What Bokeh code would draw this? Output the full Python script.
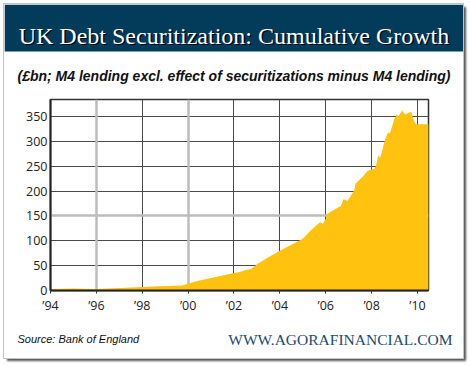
from bokeh.plotting import figure
from bokeh.layouts import column
from bokeh.models import Label, BoxAnnotation, FixedTicker, Grid, Range1d
from bokeh.embed import file_html
from bokeh.resources import INLINE

# ---- data ----
years = [1994.0, 1995.0, 1996.0, 1997.0, 1998.0, 1999.0, 1999.75, 2000.0, 2000.5,
         2001.0, 2001.5, 2002.0, 2002.25, 2002.5, 2002.75, 2003.0, 2003.5, 2004.0,
         2004.5, 2005.0, 2005.35, 2005.75, 2005.87, 2006.0, 2006.05, 2006.5, 2006.66,
         2006.78, 2006.95, 2007.1, 2007.24, 2007.3, 2007.6, 2007.83, 2008.12, 2008.19,
         2008.29, 2008.38, 2008.55, 2008.67, 2008.76, 2008.79, 2008.85, 2008.99,
         2009.1, 2009.17, 2009.33, 2009.46, 2009.72, 2009.84, 2009.94, 2010.49]
values = [3, 4, 3, 5, 7, 9, 10, 14, 20,
          25, 30, 35, 37, 41, 43, 53, 67, 80,
          92, 104, 121, 137, 134, 144, 154, 166, 170,
          184, 180, 191, 201, 215, 228, 241, 245, 251,
          272, 267, 298, 314, 318, 315, 323, 345,
          354, 350, 362, 354, 360, 342, 334, 334]

x_ticks = [1994, 1996, 1998, 2000, 2002, 2004, 2006, 2008, 2010]
x_labels = ["\u201994", "\u201996", "\u201998", "\u201900", "\u201902",
            "\u201904", "\u201906", "\u201908", "\u201910"]
y_ticks = [0, 50, 100, 150, 200, 250, 300, 350]

title_text = "UK Debt Securitization: Cumulative Growth"
subtitle_text = "(\u00a3bn; M4 lending excl. effect of securitizations minus M4 lending)"
source_text = "Source: Bank of England"
site_text = "WWW.AGORAFINANCIAL.COM"

W = 459


def panel(height):
    f = figure(width=W, height=height, output_backend="svg", toolbar_location=None,
               x_range=Range1d(0, W), y_range=Range1d(height, 0),
               x_axis_type=None, y_axis_type=None, frame_align=False,
               min_border=0, min_border_left=0, min_border_right=0,
               min_border_top=0, min_border_bottom=0)
    f.xgrid.visible = False
    f.ygrid.visible = False
    f.outline_line_color = None
    f.background_fill_color = "white"
    f.border_fill_color = "white"
    return f


# ---- header: title bar + subtitle ----
head = panel(91)
head.add_layout(BoxAnnotation(left=0, right=W, top=0, bottom=47,
                              fill_color="#033b5b", fill_alpha=1, line_color=None,
                              level="underlay"))
head.add_layout(Label(x=W / 2 + 1.5, y=32.5, text=title_text,
                      text_font="Liberation Serif", text_font_size="24px",
                      text_color="black", text_alpha=0.85,
                      text_align="center", text_baseline="alphabetic"))
head.add_layout(Label(x=W / 2, y=31, text=title_text,
                      text_font="Liberation Serif", text_font_size="24px",
                      text_color="white",
                      text_align="center", text_baseline="alphabetic"))
head.add_layout(Label(x=229.5, y=71, text=subtitle_text,
                      text_font="Liberation Sans", text_font_size="14px",
                      text_font_style="bold italic", text_color="#111111",
                      text_align="center", text_baseline="alphabetic"))

# ---- main chart ----
p = figure(width=W, height=223, output_backend="svg", toolbar_location=None,
           x_range=Range1d(1994, 2010.48), y_range=Range1d(0, 384),
           frame_align=False,
           min_border_left=46, min_border_right=35, min_border_top=4,
           min_border_bottom=28)
p.background_fill_color = "white"
p.border_fill_color = "white"
p.outline_line_color = "#333333"
p.outline_line_width = 1.5

p.varea(x=years, y1=0, y2=values, fill_color="#FFC20E")

p.xaxis.ticker = FixedTicker(ticks=x_ticks)
p.xaxis.major_label_overrides = {t: l for t, l in zip(x_ticks, x_labels)}
p.yaxis.ticker = FixedTicker(ticks=y_ticks)
for ax in (p.xaxis[0], p.yaxis[0]):
    ax.axis_line_color = "#222222"
    ax.axis_line_width = 2
    ax.major_tick_in = 0
    ax.minor_tick_line_color = None
    ax.major_label_text_font = "Open Sans"
    ax.major_label_text_font_size = "12.5px"
    ax.major_label_text_color = "#222222"
p.xaxis.major_tick_out = 3
p.xaxis.major_tick_line_color = "#333333"
p.xaxis.major_label_standoff = 3
p.yaxis.major_tick_out = 0
p.yaxis.major_label_standoff = 3

p.xgrid.ticker = FixedTicker(ticks=[1998, 2002, 2004, 2006, 2008, 2010])
p.xgrid.grid_line_color = "#4a4a4a"
p.ygrid.ticker = FixedTicker(ticks=[50, 100, 200, 250, 300, 350])
p.ygrid.grid_line_color = "#4a4a4a"
p.add_layout(Grid(dimension=0, ticker=FixedTicker(ticks=[1996, 2000]),
                  grid_line_color="#bdbdbd", grid_line_width=2.5))
p.add_layout(Grid(dimension=1, ticker=FixedTicker(ticks=[150]),
                  grid_line_color="#bdbdbd", grid_line_width=2.5))

# ---- footer ----
foot = panel(40)
foot.add_layout(Label(x=13, y=20, text=source_text,
                      text_font="Liberation Sans", text_font_size="11px",
                      text_font_style="italic", text_color="#111111",
                      text_align="left", text_baseline="alphabetic"))
foot.add_layout(Label(x=448, y=21, text=site_text,
                      text_font="Liberation Serif", text_font_size="15.5px",
                      text_color="#1d4a6e",
                      text_align="right", text_baseline="alphabetic"))

card = column(head, p, foot, spacing=0,
              styles={"position": "relative", "left": "4px", "top": "4px",
                      "background": "white",
                      "box-shadow": "0 0 0 1px #c4c4c4, 3px 3px 2px #555"})

open("out.html", "w").write(file_html(card, INLINE))
